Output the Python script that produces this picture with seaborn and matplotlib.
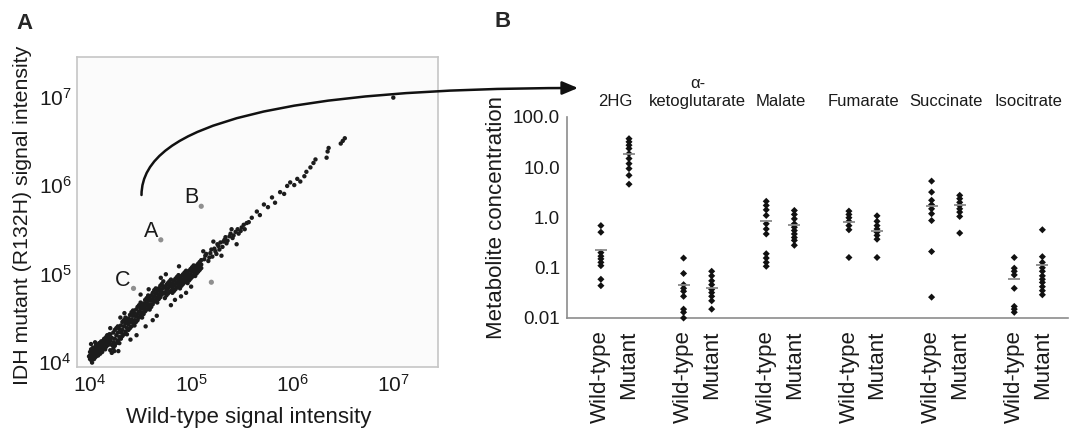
import numpy as np
import pandas as pd
import matplotlib
matplotlib.use("Agg")
import matplotlib.pyplot as plt
import seaborn as sns
from matplotlib.ticker import FixedLocator, LogFormatterMathtext, NullLocator

# ---------------- Panel A: log10 signal intensities
wt_log = [
    # dense blob near the lower detection limit
    4.00, 4.00, 4.00, 4.01, 4.01, 4.01, 4.02, 4.02, 4.02, 4.03, 4.03, 4.03,
    4.04, 4.04, 4.04, 4.05, 4.05, 4.05, 4.06, 4.06, 4.06, 4.07, 4.07, 4.07,
    4.08, 4.08, 4.08, 4.09, 4.09, 4.09, 4.10, 4.10, 4.10, 4.11, 4.11, 4.11,
    4.12, 4.12, 4.12, 4.13, 4.13, 4.13, 4.14, 4.14, 4.14, 4.15, 4.15, 4.15,
    4.16, 4.16, 4.16, 4.17, 4.17, 4.17, 4.18, 4.18, 4.18, 4.19, 4.19, 4.19,
    4.01, 4.24, 4.05, 3.99, 4.02,
    # main band
    4.20, 4.20, 4.20, 4.215, 4.215, 4.215, 4.23, 4.23, 4.23, 4.245, 4.245, 4.245,
    4.26, 4.26, 4.26, 4.275, 4.275, 4.275, 4.29, 4.29, 4.29, 4.305, 4.305, 4.305,
    4.32, 4.32, 4.32, 4.335, 4.335, 4.335, 4.35, 4.35, 4.35, 4.365, 4.365, 4.365,
    4.38, 4.38, 4.38, 4.395, 4.395, 4.395, 4.41, 4.41, 4.41, 4.425, 4.425, 4.425,
    4.44, 4.44, 4.44, 4.455, 4.455, 4.455, 4.47, 4.47, 4.47, 4.485, 4.485, 4.485,
    4.50, 4.50, 4.50, 4.515, 4.515, 4.515, 4.53, 4.53, 4.53, 4.545, 4.545, 4.545,
    4.56, 4.56, 4.56, 4.575, 4.575, 4.575, 4.59, 4.59, 4.59, 4.605, 4.605, 4.605,
    4.62, 4.62, 4.62, 4.635, 4.635, 4.635, 4.65, 4.65, 4.65, 4.665, 4.665, 4.665,
    4.68, 4.68, 4.68, 4.695, 4.695, 4.695, 4.71, 4.71, 4.71, 4.725, 4.725, 4.725,
    4.74, 4.74, 4.74, 4.755, 4.755, 4.755, 4.77, 4.77, 4.77, 4.785, 4.785, 4.785,
    4.80, 4.80, 4.80, 4.815, 4.815, 4.815, 4.83, 4.83, 4.83, 4.845, 4.845, 4.845,
    4.86, 4.86, 4.86, 4.875, 4.875, 4.875, 4.89, 4.89, 4.89, 4.905, 4.905, 4.905,
    4.92, 4.92, 4.92, 4.935, 4.935, 4.935, 4.95, 4.95, 4.95, 4.965, 4.965, 4.965,
    4.98, 4.98, 4.98, 4.995, 4.995, 4.995, 5.01, 5.01, 5.01, 5.025, 5.025, 5.025,
    5.04, 5.04, 5.04, 5.055, 5.055, 5.055, 5.07, 5.07, 5.07, 5.085, 5.085, 5.085,
    5.10, 5.10, 5.10,
    # stray dots either side of the band
    4.30, 4.40, 4.50, 4.62, 4.70, 4.80, 4.88, 4.95, 4.28, 4.20, 4.55, 4.75, 5.00,
    4.34, 4.46, 4.58, 4.66, 4.84, 4.90,
    # upper band
    5.13, 5.15, 5.17, 5.19, 5.21, 5.23, 5.25, 5.27, 5.29, 5.31, 5.33, 5.35, 5.38, 5.41,
    5.44, 5.47, 5.50, 5.53, 5.57, 5.60, 5.22, 5.30, 5.40, 5.45, 5.12,
    5.14, 5.18, 5.20, 5.24, 5.26, 5.28, 5.32, 5.34, 5.36, 5.39, 5.42, 5.46, 5.49,
    5.52, 5.55,
    5.65, 5.68, 5.72, 5.76, 5.80, 5.83, 5.88, 5.92, 5.95, 5.98, 6.02, 6.05, 6.08, 6.12,
    6.14, 6.18, 6.21, 6.23, 6.34, 6.35, 6.36, 6.48, 6.50, 6.52,
    7.00,
]
mut_log = [
    4.03, 4.07, 4.11, 4.02, 4.09, 4.14, 4.05, 4.12, 4.08, 4.04, 4.10, 4.16,
    4.07, 4.13, 4.03, 4.09, 4.16, 4.05, 4.06, 4.12, 4.19, 4.10, 4.15, 4.08,
    4.13, 4.18, 4.07, 4.11, 4.16, 4.21, 4.14, 4.19, 4.09, 4.17, 4.12, 4.23,
    4.15, 4.21, 4.11, 4.18, 4.24, 4.14, 4.21, 4.16, 4.26, 4.19, 4.24, 4.14,
    4.22, 4.28, 4.17, 4.25, 4.20, 4.30, 4.23, 4.28, 4.19, 4.26, 4.31, 4.21,
    4.20, 4.12, 4.22, 4.06, 3.99,
    4.13, 4.24, 4.31, 4.19, 4.27, 4.10, 4.22, 4.33, 4.15, 4.26, 4.18, 4.36,
    4.30, 4.21, 4.38, 4.24, 4.33, 4.40, 4.28, 4.37, 4.21, 4.33, 4.41, 4.26,
    4.36, 4.29, 4.45, 4.40, 4.31, 4.47, 4.34, 4.43, 4.50, 4.38, 4.46, 4.31,
    4.42, 4.49, 4.36, 4.45, 4.38, 4.53, 4.48, 4.40, 4.56, 4.44, 4.52, 4.58,
    4.47, 4.55, 4.41, 4.51, 4.59, 4.45, 4.54, 4.47, 4.62, 4.57, 4.50, 4.64,
    4.53, 4.60, 4.67, 4.56, 4.63, 4.50, 4.60, 4.66, 4.54, 4.63, 4.57, 4.70,
    4.66, 4.59, 4.72, 4.62, 4.69, 4.75, 4.65, 4.72, 4.59, 4.69, 4.75, 4.62,
    4.71, 4.65, 4.78, 4.74, 4.68, 4.81, 4.70, 4.77, 4.83, 4.73, 4.80, 4.67,
    4.76, 4.83, 4.71, 4.79, 4.73, 4.86, 4.82, 4.76, 4.88, 4.78, 4.85, 4.91,
    4.78, 4.84, 4.72, 4.81, 4.87, 4.75, 4.83, 4.77, 4.89, 4.85, 4.79, 4.91,
    4.80, 4.87, 4.93, 4.83, 4.89, 4.78, 4.86, 4.92, 4.80, 4.88, 4.82, 4.94,
    4.90, 4.84, 4.96, 4.86, 4.92, 4.98, 4.88, 4.94, 4.83, 4.91, 4.97, 4.86,
    4.93, 4.88, 4.99, 4.95, 4.90, 5.01, 4.92, 4.97, 5.03, 4.94, 5.00, 4.89,
    4.97, 4.92, 5.03, 4.99, 4.94, 5.05, 4.96, 5.02, 5.07, 4.98, 5.04, 5.09,
    5.01, 5.06, 4.97, 5.03, 5.09, 5.00, 5.05, 5.11, 5.02, 5.08, 5.13, 5.04,
    5.10, 5.15, 5.06,
    4.50, 4.25, 4.76, 4.47, 4.95, 4.64, 5.08, 4.78, 4.12, 4.38, 4.40, 4.99, 4.85,
    4.55, 4.30, 4.82, 4.52, 4.70, 4.74,
    5.16, 5.22, 5.14, 5.23, 5.19, 5.28, 5.22, 5.31, 5.35, 5.30, 5.38, 5.34, 5.42, 5.40,
    5.47, 5.45, 5.52, 5.50, 5.58, 5.63, 5.36, 5.20, 5.50, 5.33, 5.25,
    5.20, 5.18, 5.27, 5.25, 5.33, 5.27, 5.36, 5.41, 5.37, 5.45, 5.43, 5.50, 5.48,
    5.55, 5.57,
    5.70, 5.66, 5.78, 5.75, 5.86, 5.80, 5.92, 5.90, 5.99, 6.03, 6.00, 6.07, 6.04, 6.10,
    6.15, 6.20, 6.25, 6.29, 6.31, 6.38, 6.42, 6.47, 6.50, 6.53,
    6.99,
]

# highlighted genes (grey dots)
outlier_names = ["A", "B", "C", ""]
outlier_wt_log = [4.70, 5.10, 4.43, 5.20]
outlier_mut_log = [5.38, 5.76, 4.83, 4.90]

# ---------------- Panel B: metabolite concentrations
metabolites = ["2HG", "α-\nketoglutarate", "Malate", "Fumarate", "Succinate", "Isocitrate"]
genotypes = ["Wild-type", "Mutant"]

hg2_wt = [0.69, 0.51, 0.20, 0.17, 0.15, 0.128, 0.11, 0.059, 0.044]
hg2_mut = [37, 32, 27.5, 23.6, 18.7, 14.9, 11.8, 9.4, 6.9, 4.6]
akg_wt = [0.156, 0.077, 0.046, 0.039, 0.034, 0.027, 0.015, 0.013, 0.010]
akg_mut = [0.085, 0.069, 0.055, 0.046, 0.037, 0.032, 0.027, 0.022, 0.015]
mal_wt = [2.1, 1.74, 1.42, 1.1, 0.75, 0.59, 0.47, 0.19, 0.156, 0.128, 0.107]
mal_mut = [1.38, 1.15, 0.94, 0.75, 0.64, 0.55, 0.47, 0.40, 0.35, 0.28]
fum_wt = [1.34, 1.15, 0.99, 0.84, 0.69, 0.57, 0.16]
fum_mut = [1.08, 0.84, 0.69, 0.59, 0.51, 0.44, 0.37, 0.16]
suc_wt = [5.3, 3.2, 2.2, 1.8, 1.49, 1.19, 0.87, 0.21, 0.026]
suc_mut = [2.76, 2.37, 2.0, 1.74, 1.49, 1.28, 1.05, 0.49]
iso_wt = [0.16, 0.098, 0.085, 0.072, 0.039, 0.017, 0.015, 0.013]
iso_mut = [0.57, 0.166, 0.128, 0.10, 0.085, 0.069, 0.059, 0.051, 0.042, 0.035, 0.029]

mean_wt = [0.23, 0.046, 0.84, 0.81, 1.68, 0.059]
mean_mut = [18.7, 0.039, 0.70, 0.55, 1.74, 0.115]

wt_series = [hg2_wt, akg_wt, mal_wt, fum_wt, suc_wt, iso_wt]
mut_series = [hg2_mut, akg_mut, mal_mut, fum_mut, suc_mut, iso_mut]

# ---------------- style
sns.set_style("white")
plt.rcParams["font.family"] = ["Liberation Sans", "DejaVu Sans"]
plt.rcParams["mathtext.default"] = "regular"

W, H = 1074, 437
fig = plt.figure(figsize=(W / 100, H / 100), dpi=100)
fig.patch.set_facecolor("white")

# ---------------- Panel A
axA = fig.add_axes([77 / W, (H - 367) / H, (438 - 77) / W, (367 - 57) / H])
dfA = pd.DataFrame({"wt": 10 ** np.array(wt_log), "mut": 10 ** np.array(mut_log)})
dfO = pd.DataFrame({"wt": 10 ** np.array(outlier_wt_log),
                    "mut": 10 ** np.array(outlier_mut_log),
                    "name": outlier_names})

sns.scatterplot(data=dfA, x="wt", y="mut", s=10, color="#1c1c1c",
                edgecolor="none", ax=axA, legend=False)
sns.scatterplot(data=dfO, x="wt", y="mut", s=14, color="#8f8f8f",
                edgecolor="none", ax=axA, legend=False)
for _, r in dfO.iterrows():
    if r["name"]:
        axA.annotate(r["name"], xy=(r["wt"], r["mut"]), xytext=(-2, 2),
                     textcoords="offset points", ha="right", va="baseline",
                     fontsize=15.5, color="#1a1a1a")

axA.set_xscale("log")
axA.set_yscale("log")
axA.set_xlim(10 ** 3.871, 10 ** 7.442)
axA.set_ylim(10 ** 3.94, 10 ** 7.45)
decades = [1e4, 1e5, 1e6, 1e7]
for axis in (axA.xaxis, axA.yaxis):
    axis.set_major_locator(FixedLocator(decades))
    axis.set_major_formatter(LogFormatterMathtext())
    axis.set_minor_locator(NullLocator())
axA.tick_params(axis="both", which="major", direction="out", length=3, width=1,
                color="#9a9a9a", labelsize=15, labelcolor="#1a1a1a")
axA.tick_params(axis="x", pad=2)
axA.tick_params(axis="y", pad=1)
axA.set_facecolor("#fbfbfb")
for sp in axA.spines.values():
    sp.set_color("#c6c6c6")
    sp.set_linewidth(1.2)
axA.set_xlabel("Wild-type signal intensity", fontsize=16, color="#1a1a1a")
axA.set_ylabel("IDH mutant (R132H) signal intensity", fontsize=15.3, color="#1a1a1a")
axA.xaxis.set_label_coords((249 - 77) / (438 - 77), -0.128)
axA.yaxis.set_label_coords(-0.125, 0.49)

# ---------------- Panel B
pair_offset = 0.17
rows = []
for gi, name in enumerate(metabolites):
    for g, vals in zip(genotypes, (wt_series[gi], mut_series[gi])):
        pos = gi - pair_offset if g == "Wild-type" else gi + pair_offset
        for v in vals:
            rows.append({"metabolite": name, "genotype": g, "pos": pos, "value": v})
dfB = pd.DataFrame(rows)
dfM = pd.DataFrame({
    "pos": [gi + s * pair_offset for gi in range(len(metabolites)) for s in (-1, 1)],
    "mean": [m for pair in zip(mean_wt, mean_mut) for m in pair],
})

axB = fig.add_axes([567 / W, (H - 318) / H, (1068 - 567) / W, (318 - 117) / H])
sns.scatterplot(data=dfB, x="pos", y="value", marker="D", s=13, color="#111111",
                edgecolor="none", ax=axB, legend=False, clip_on=False, zorder=3)
sns.scatterplot(data=dfM, x="pos", y="mean", marker="_", s=85, color="#8a8a8a",
                linewidth=1.3, ax=axB, legend=False, clip_on=False, zorder=4)

axB.set_yscale("log")
axB.set_ylim(0.01, 100)
axB.set_xlim(-0.58, 5.48)
axB.yaxis.set_major_locator(FixedLocator([0.01, 0.1, 1, 10, 100]))
axB.yaxis.set_minor_locator(NullLocator())
axB.set_yticklabels(["0.01", "0.1", "1.0", "10.0", "100.0"])

tick_pos = [gi + s * pair_offset for gi in range(len(metabolites)) for s in (-1, 1)]
axB.set_xticks(tick_pos)
axB.set_xticklabels(genotypes * len(metabolites))
axB.set_xticks([gi + 0.5 for gi in range(len(metabolites) - 1)], minor=True)
axB.tick_params(axis="x", which="major", length=0, pad=9, labelsize=16,
                labelrotation=90, labelcolor="#1a1a1a")
axB.tick_params(axis="x", which="minor", length=6, width=1.1, color="#8c8c8c",
                direction="out")
axB.tick_params(axis="y", which="major", length=4, width=1.1, color="#8c8c8c",
                direction="out", pad=1, labelsize=13.5, labelcolor="#1a1a1a")
axB.set_xlabel("")
axB.set_ylabel("Metabolite concentration", fontsize=16, color="#1a1a1a", labelpad=4)
axB.set_facecolor("white")
for side in ("top", "right"):
    axB.spines[side].set_visible(False)
for side in ("left", "bottom"):
    axB.spines[side].set_color("#8c8c8c")
    axB.spines[side].set_linewidth(1.2)

for gi, name in enumerate(metabolites):
    axB.annotate(name, xy=(gi, 1), xycoords=("data", "axes fraction"),
                 xytext=(0, 6), textcoords="offset points", ha="center",
                 va="bottom", fontsize=12, color="#1a1a1a", annotation_clip=False)

# ---------------- connecting arrow (figure pixels)
axA.annotate("", xy=(578, H - 88), xycoords="figure pixels",
             xytext=(141.5, H - 195), textcoords="figure pixels",
             arrowprops=dict(arrowstyle="-|>,head_length=0.95,head_width=0.4",
                             connectionstyle="angle3,angleA=90,angleB=0",
                             lw=1.8, color="#111111", shrinkA=0, shrinkB=0,
                             mutation_scale=10),
             annotation_clip=False)

# panel letters
fig.text(16 / W, 1 - 13 / H, "A", fontsize=16, fontweight="bold", va="top", ha="left")
fig.text(494 / W, 1 - 11 / H, "B", fontsize=16, fontweight="bold", va="top", ha="left")

fig.savefig("out.png", dpi=100)
